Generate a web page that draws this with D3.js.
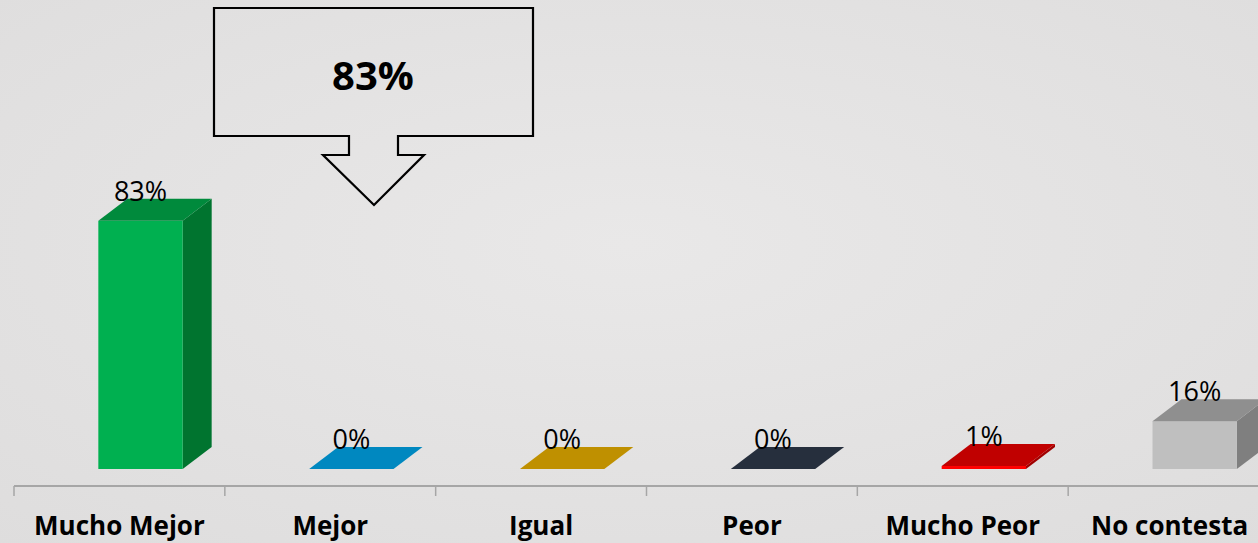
<!DOCTYPE html>
<html><head><meta charset="utf-8">
<script src="https://cdn.jsdelivr.net/npm/d3@7"></script>
<style>html,body{margin:0;padding:0;overflow:hidden;}svg{display:block;}</style>
</head><body>
<script>
const categories = ["Mucho Mejor","Mejor","Igual","Peor","Mucho Peor","No contesta"];
const values = [83, 0, 0, 0, 1, 16];
const frontColors = ["#00b050","#0088c0","#bf9000","#222a35","#ff0000","#bfbfbf"];
const topColors   = ["#008a3c","#0088c0","#bf9000","#262f3d","#c00000","#8f8f8f"];
const sideColors  = ["#00742f","#006a96","#8f6c00","#1a2029","#a00000","#7f7f7f"];
const calloutText = "83%";

const W = 1258, H = 543;
const svg = d3.select("body").append("svg").attr("width", W).attr("height", H);
const defs = svg.append("defs");
const rg = defs.append("radialGradient").attr("id","bg").attr("cx","50%").attr("cy","45%").attr("r","75%");
rg.append("stop").attr("offset","0%").attr("stop-color","#e9e8e8");
rg.append("stop").attr("offset","100%").attr("stop-color","#dedddd");
svg.append("rect").attr("width",W).attr("height",H).attr("fill","url(#bg)");

const x = d3.scaleBand().domain(categories).range([14, 1279]).paddingInner(0).paddingOuter(0);
const y = d3.scaleLinear().domain([0, 100]).range([469, 170]);
const dx = 29, dy = 22;
const bw = x.bandwidth();

// axis
const axis = d3.axisBottom(x).tickSize(0).tickFormat(d => d);
const ag = svg.append("g").attr("transform","translate(0,486)").call(axis);
ag.select(".domain").attr("stroke","#a6a6a6").attr("stroke-width",2).attr("d","M14,0H1258");
ag.selectAll(".tick text").attr("y", 49).attr("dy", 0)
  .attr("font-family","'Open Sans', sans-serif").attr("font-weight","bold")
  .attr("font-size", 26).attr("fill","#000");
ag.selectAll(".tick").filter(d => d === "No contesta").select("text").attr("x", -4);
ag.selectAll(".tickmark").data(categories).enter().append("line")
  .attr("x1", d => x(d)).attr("x2", d => x(d)).attr("y1",0).attr("y2",10)
  .attr("stroke","#a6a6a6").attr("stroke-width",1.5);

// bars
const g = svg.append("g");
categories.forEach((c, i) => {
  const fl = x(c) + bw * 0.4, fr = fl + bw * 0.4;
  const top = y(values[i]), bot = y(0);
  const bg = g.append("g");
  if (bot - top > 0) {
    bg.append("polygon").attr("points", [[fr,top],[fr+dx,top-dy],[fr+dx,bot-dy],[fr,bot]].join(" ")).attr("fill", sideColors[i]);
    bg.append("rect").attr("x", fl).attr("y", top).attr("width", fr-fl).attr("height", bot-top).attr("fill", frontColors[i]);
  }
  bg.append("polygon").attr("points", [[fl,top],[fl+dx,top-dy],[fr+dx,top-dy],[fr,top]].join(" ")).attr("fill", topColors[i]);
  g.append("text").attr("x", (fl+fr)/2).attr("y", top - dy + 2).attr("text-anchor","middle")
    .attr("font-family","'Open Sans', sans-serif").attr("font-size", 27).attr("fill","#000")
    .text(values[i] + "%");
});

// callout
const cg = svg.append("g");
cg.append("path").attr("d","M214,8 H533 V136 H398 V155 H424 L374,205 L323,155 H349 V136 H214 Z")
  .attr("fill","none").attr("stroke","#000").attr("stroke-width",2.2);
cg.append("text").attr("x",373).attr("y",90).attr("text-anchor","middle")
  .attr("font-family","'Open Sans', sans-serif").attr("font-weight","bold").attr("font-size",40)
  .attr("fill","#000").text(calloutText);
</script>
</body></html>
